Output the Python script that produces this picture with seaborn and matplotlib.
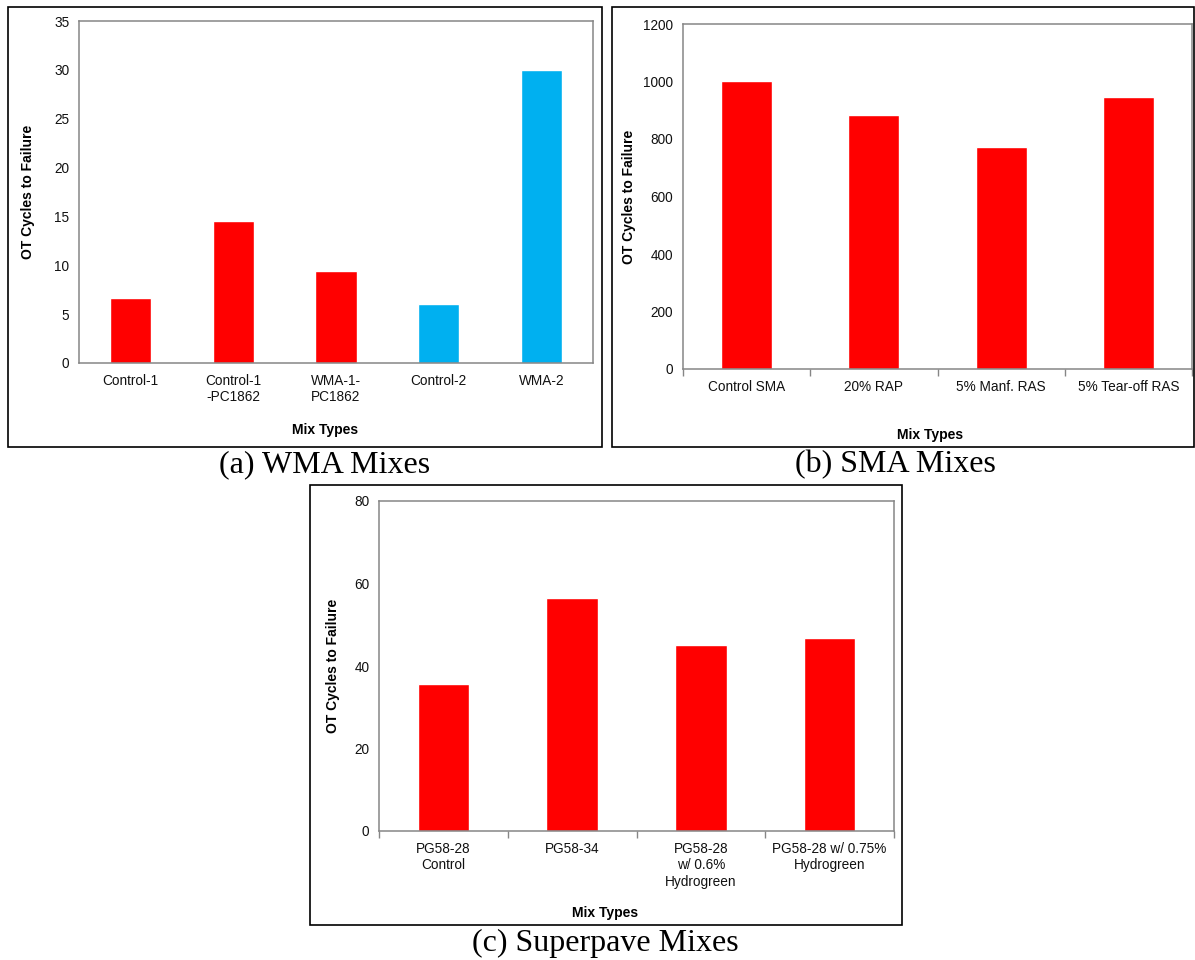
import matplotlib
matplotlib.use("Agg")
import matplotlib.pyplot as plt
from matplotlib.patches import Rectangle
from matplotlib.ticker import FixedLocator
import seaborn as sns

# ---- data ----
wma_labels = ["Control-1", "Control-1\n-PC1862", "WMA-1-\nPC1862", "Control-2", "WMA-2"]
wma_values = [6.65, 14.5, 9.4, 6.05, 30.0]
wma_colors = ["#FF0000", "#FF0000", "#FF0000", "#00B0F0", "#00B0F0"]

sma_labels = ["Control SMA", "20% RAP", "5% Manf. RAS", "5% Tear-off RAS"]
sma_values = [1000, 885, 773, 947]
sma_colors = ["#FF0000"] * 4

sp_labels = ["PG58-28\nControl", "PG58-34", "PG58-28\nw/ 0.6%\nHydrogreen", "PG58-28 w/ 0.75%\nHydrogreen"]
sp_values = [35.7, 56.4, 45.0, 46.7]
sp_colors = ["#FF0000"] * 4

sns.set_theme(style="white")
plt.rcParams["font.family"] = ["Liberation Sans", "DejaVu Sans"]

W, H = 1195, 960
fig = plt.figure(figsize=(W / 100, H / 100), dpi=100)
fig.patch.set_facecolor("white")


def fbox(x0, y0, x1, y1):
    return [x0 / W, 1 - y1 / H, (x1 - x0) / W, (y1 - y0) / H]


def frame(x0, y0, x1, y1):
    fig.add_artist(Rectangle((x0 / W, 1 - y1 / H), (x1 - x0) / W, (y1 - y0) / H,
                             transform=fig.transFigure, fill=False,
                             edgecolor="black", linewidth=1.2))


def panel(rect, labels, values, colors, ymax, ystep, ylab_x, xlab_xy, boundary_ticks):
    ax = fig.add_axes(rect)
    sns.barplot(x=labels, y=values, hue=labels, palette=colors, legend=False,
                width=0.4, saturation=1, ax=ax, order=labels, hue_order=labels)
    ax.set_ylim(0, ymax)
    ax.set_xlim(-0.5, len(labels) - 0.5)
    ax.set_yticks(list(range(0, ymax + 1, ystep)))
    for s in ax.spines.values():
        s.set_color("#868686")
        s.set_linewidth(1.1)
    ax.tick_params(axis="y", length=0, pad=7, labelsize=9.8, labelcolor="#111111")
    ax.tick_params(axis="x", which="major", length=0, pad=8, labelsize=9.8, labelcolor="#111111")
    if boundary_ticks:
        ax.xaxis.set_minor_locator(FixedLocator([i + 0.5 for i in range(len(labels) - 1)] + [-0.5, len(labels) - 0.5]))
        ax.tick_params(axis="x", which="minor", bottom=True, length=5, width=1.0,
                       color="#868686", direction="out")
    ax.set_ylabel("OT Cycles to Failure", fontsize=10, fontweight="bold", color="black")
    ax.yaxis.set_label_coords(ylab_x, 0.5)
    ax.set_xlabel("Mix Types", fontsize=10, fontweight="bold", color="black")
    ax.xaxis.set_label_coords(*xlab_xy)
    ax.grid(False)
    return ax


# (a) WMA
frame(8, 7, 602, 447)
panel(fbox(79, 21, 593, 363), wma_labels, wma_values, wma_colors, 35, 5,
      -0.086, (0.479, -0.175), False)
fig.text(325 / W, 1 - 465 / H, "(a) WMA Mixes", ha="center", va="center",
         fontsize=23, family="Liberation Serif", color="black")

# (b) SMA
frame(612, 7, 1194, 447)
panel(fbox(683, 24, 1192, 369), sma_labels, sma_values, sma_colors, 1200, 200,
      -0.092, (0.485, -0.172), True)
fig.text(895 / W, 1 - 465 / H, "(b) SMA Mixes", ha="center", va="center",
         fontsize=23, family="Liberation Serif", color="black")

# (c) Superpave
frame(310, 485, 902, 925)
panel(fbox(379, 501, 894, 831), sp_labels, sp_values, sp_colors, 80, 20,
      -0.076, (0.439, -0.228), True)
fig.text(605 / W, 1 - 943 / H, "(c) Superpave Mixes", ha="center", va="center",
         fontsize=23, family="Liberation Serif", color="black")

fig.savefig("out.png", dpi=100, facecolor="white")
